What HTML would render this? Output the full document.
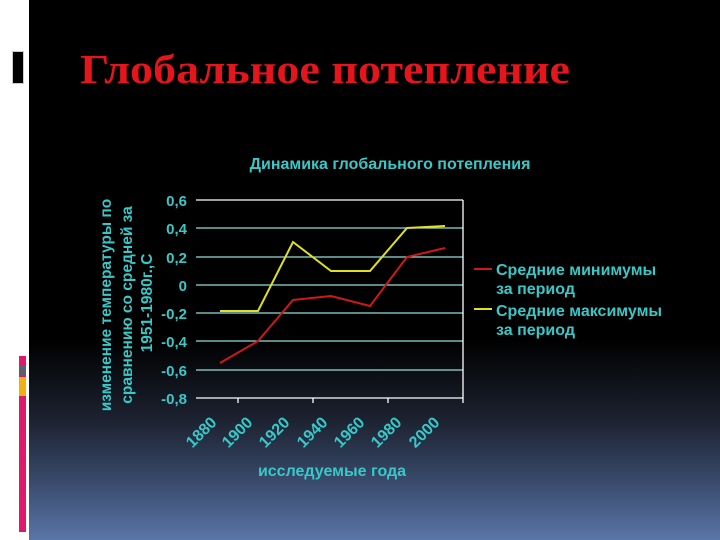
<!DOCTYPE html>
<html><head><meta charset="utf-8"><style>
html,body{margin:0;padding:0;}
body{width:720px;height:540px;overflow:hidden;background:#fff;position:relative;}
.bg{position:absolute;left:29px;top:0;width:691px;height:540px;background:linear-gradient(to bottom,#000 0px,#000 340px,#1c2230 420px,#38496a 480px,#5a75a8 540px);}
</style></head><body>
<div class="bg"></div>
<div style="position:absolute;left:12px;top:51px;width:10px;height:31px;background:#000;border:1px solid #ccc;"></div>
<div style="position:absolute;left:19px;top:356px;width:7px;height:176px;background:#e0186c;"></div>
<div style="position:absolute;left:19px;top:365px;width:7px;height:11px;background:#5a6070;"></div>
<div style="position:absolute;left:19px;top:377px;width:7px;height:19px;background:#f0b010;"></div>
<svg width="720" height="540" style="position:absolute;left:0;top:0" font-family="Liberation Sans, sans-serif">
<text x="80" y="83" font-family="Liberation Serif, serif" font-weight="bold" font-size="41" textLength="490" lengthAdjust="spacingAndGlyphs" fill="#e5151c">Глобальное потепление</text>
<text x="390" y="169" text-anchor="middle" font-size="16" font-weight="bold" fill="#38c8c8">Динамика глобального потепления</text>
<g stroke="#8fe0d8" stroke-width="1.3">
<line x1="196" y1="228" x2="463" y2="228"/><line x1="196" y1="257" x2="463" y2="257"/>
<line x1="196" y1="285" x2="463" y2="285"/><line x1="196" y1="313" x2="463" y2="313"/>
<line x1="196" y1="341" x2="463" y2="341"/><line x1="196" y1="370" x2="463" y2="370"/>
</g>
<g stroke="#fff" stroke-width="1.3" fill="none">
<line x1="196" y1="200" x2="463" y2="200"/><line x1="196" y1="398" x2="463" y2="398"/>
<line x1="463" y1="200" x2="463" y2="403"/>
<line x1="238" y1="398" x2="238" y2="403"/><line x1="313" y1="398" x2="313" y2="403"/><line x1="388" y1="398" x2="388" y2="403"/>
</g>
<g font-size="15" font-weight="bold" fill="#38c8c8" text-anchor="end">
<text x="187" y="206">0,6</text><text x="187" y="234">0,4</text><text x="187" y="263">0,2</text>
<text x="187" y="291">0</text><text x="187" y="319">-0,2</text><text x="187" y="347">-0,4</text>
<text x="187" y="376">-0,6</text><text x="187" y="404">-0,8</text>
</g>
<polyline fill="none" stroke="#e0e020" stroke-width="2" points="220,311 258,311 293,242 331,271 370,271 407,228 445,226"/>
<polyline fill="none" stroke="#d01818" stroke-width="2" points="220,363 258,341 293,300 331,296 370,306 407,257 445,248"/>
<g font-size="16" font-weight="bold" fill="#38c8c8" text-anchor="middle">
<text transform="translate(205,436) rotate(-45)">1880</text>
<text transform="translate(241,436) rotate(-45)">1900</text>
<text transform="translate(278,436) rotate(-45)">1920</text>
<text transform="translate(316,436) rotate(-45)">1940</text>
<text transform="translate(353,436) rotate(-45)">1960</text>
<text transform="translate(390,436) rotate(-45)">1980</text>
<text transform="translate(428,436) rotate(-45)">2000</text>
</g>
<text x="332" y="476" text-anchor="middle" font-size="16" font-weight="bold" fill="#38c8c8">исследуемые года</text>
<g font-size="15.5" font-weight="bold" fill="#38c8c8" text-anchor="middle">
<text transform="translate(111,305) rotate(-90)">изменение температуры по</text>
<text transform="translate(132,305) rotate(-90)">сравнению со средней за</text>
<text transform="translate(152,303) rotate(-90)">1951-1980г.,С</text>
</g>
<line x1="474" y1="269" x2="492" y2="269" stroke="#d01818" stroke-width="2"/>
<line x1="474" y1="309" x2="492" y2="309" stroke="#e0e020" stroke-width="2"/>
<g font-size="16" font-weight="bold" fill="#38c8c8">
<text x="496" y="275">Средние минимумы</text>
<text x="496" y="294">за период</text>
<text x="496" y="316">Средние максимумы</text>
<text x="496" y="335">за период</text>
</g>
</svg>
</body></html>
